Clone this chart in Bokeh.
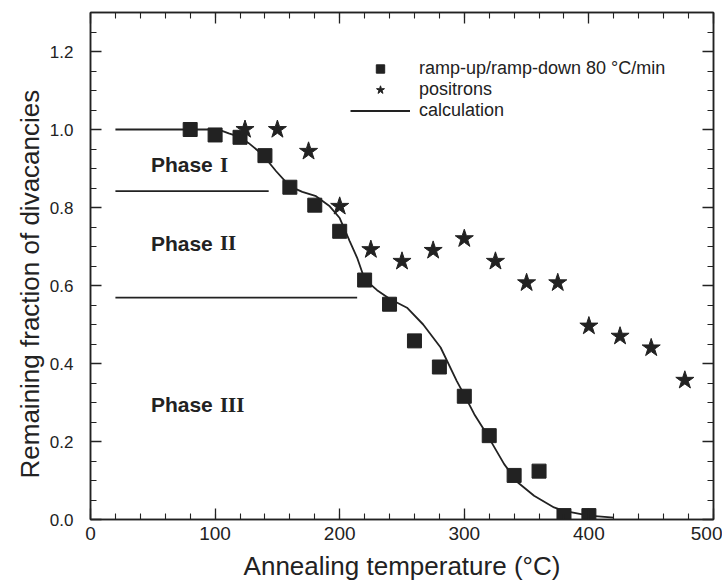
from bokeh.plotting import figure
from bokeh.models import (Range1d, FixedTicker, LinearAxis, Legend, LegendItem,
                          ColumnDataSource, PrintfTickFormatter, Title)
from bokeh.core.properties import value
from bokeh.embed import file_html
from bokeh.resources import INLINE

# ---------------- data ----------------
ramp_T = [80, 100, 120, 140, 160, 180, 200, 220, 240, 260, 280, 300, 320, 340, 360, 380, 400]
ramp_f = [1.0, 0.986, 0.98, 0.933, 0.852, 0.806, 0.739, 0.614, 0.552, 0.458, 0.391, 0.316,
          0.215, 0.113, 0.124, 0.01, 0.01]

pos_T = [124, 150, 175, 200, 225, 250, 275, 300, 325, 350, 375, 400, 425, 450, 477]
pos_f = [1.0, 1.0, 0.944, 0.803, 0.692, 0.662, 0.69, 0.72, 0.662, 0.607, 0.607, 0.496,
         0.47, 0.44, 0.357]

calc_T = [20, 60, 95, 105, 111, 119, 127, 138, 149, 160, 170, 181, 192, 200, 208, 214,
          220, 230, 240, 254, 267, 281, 294, 301, 308, 318, 332, 343, 356, 372, 380, 400, 420]
calc_f = [1.0, 1.0, 1.0, 0.997, 0.99, 0.982, 0.965, 0.936, 0.893, 0.854, 0.84, 0.829, 0.803,
          0.773, 0.714, 0.671, 0.616, 0.588, 0.566, 0.543, 0.50, 0.441, 0.355, 0.313, 0.27,
          0.219, 0.142, 0.095, 0.061, 0.031, 0.022, 0.01, 0.005]

# phase boundaries (horizontal lines)
bound_x0 = [20, 20]
bound_x1 = [143, 214]
bound_y = [0.842, 0.569]

phase_word = ["Phase", "Phase", "Phase"]
phase_num = ["I", "II", "III"]
phase_x = [48.5, 48.5, 48.5]
phase_y = [0.91, 0.708, 0.294]

x_ticks = [0, 100, 200, 300, 400, 500]
x_minor = list(range(0, 501, 20))
y_ticks = [0.0, 0.2, 0.4, 0.6, 0.8, 1.0, 1.2]
y_minor = [round(i * 0.05, 2) for i in range(0, 27)]

INK = "#222222"
FONT = "Liberation Sans"

p = figure(width=722, height=586, output_backend="svg", toolbar_location=None,
           x_range=Range1d(0, 500), y_range=Range1d(0, 1.3),
           x_axis_label="Annealing temperature (°C)",
           min_border_left=90, min_border_right=9, min_border_top=12, min_border_bottom=67)
p.grid.visible = False
p.outline_line_color = INK
p.outline_line_width = 1.5
p.background_fill_color = "white"
p.border_fill_color = "white"

def style_axis(ax, ticks, minor, show_labels):
    ax.ticker = FixedTicker(ticks=ticks, minor_ticks=minor)
    ax.major_tick_in = 11
    ax.major_tick_out = 0
    ax.minor_tick_in = 6
    ax.minor_tick_out = 0
    ax.axis_line_color = INK
    ax.axis_line_width = 1.5
    ax.major_tick_line_color = INK
    ax.minor_tick_line_color = INK
    ax.major_tick_line_width = 1.3
    ax.minor_tick_line_width = 1.1
    if show_labels:
        ax.major_label_text_font = FONT
        ax.major_label_text_color = INK
    else:
        ax.major_label_overrides = {t: "" for t in ticks}
        ax.major_label_standoff = 0

xa = p.xaxis[0]
ya = p.yaxis[0]
style_axis(xa, x_ticks, x_minor, True)
style_axis(ya, y_ticks, y_minor, True)
xa.major_label_text_font_size = "19px"
ya.major_label_text_font_size = "17px"
ya.formatter = PrintfTickFormatter(format="%.1f")
xa.major_label_standoff = 7
ya.major_label_standoff = 17
xa.axis_label_text_font = FONT
xa.axis_label_text_font_style = "normal"
xa.axis_label_text_font_size = "26px"
xa.axis_label_text_color = INK
xa.axis_label_standoff = 8

# y-axis title placed as a side title so it can sit where the original has it
ytitle = Title(text="Remaining fraction of divacancies", align="left", offset=41,
               text_font=FONT, text_font_style="normal", text_font_size="26px",
               text_color=INK, standoff=4)
p.add_layout(ytitle, "left")

top = LinearAxis()
right = LinearAxis()
style_axis(top, x_ticks, x_minor, False)
style_axis(right, y_ticks, y_minor, False)
p.add_layout(top, "above")
p.add_layout(right, "right")

# boundaries
p.segment(x0=bound_x0, x1=bound_x1, y0=bound_y, y1=bound_y, line_color=INK, line_width=1.6)

# calculation curve
calc_r = p.line(calc_T, calc_f, line_color=INK, line_width=1.8)

# data
sq_r = p.scatter(ramp_T, ramp_f, marker="square", size=14, fill_color=INK, line_color=INK)
st_r = p.scatter(pos_T, pos_f, marker="star", size=19, fill_color=INK, line_color=INK)

# phase labels
src = ColumnDataSource(dict(x=phase_x, y=phase_y, w=phase_word, n=phase_num))
p.text(x="x", y="y", text="w", source=src, text_font=value(FONT), text_font_style="bold",
       text_font_size="21px", text_color=INK, text_baseline="alphabetic", text_align="left")
p.text(x="x", y="y", text="n", source=src, text_font=value("Liberation Serif"),
       text_font_style="bold", text_font_size="21px", text_color=INK,
       text_baseline="alphabetic", text_align="left", x_offset=69)

legend = Legend(items=[
    LegendItem(label="ramp-up/ramp-down 80 °C/min", renderers=[sq_r]),
    LegendItem(label="positrons", renderers=[st_r]),
    LegendItem(label="calculation", renderers=[calc_r]),
], location=(260, 398))
legend.glyph_width = 60
legend.glyph_height = 21
legend.label_height = 21
legend.spacing = 0
legend.padding = 0
legend.margin = 0
legend.label_standoff = 9
legend.border_line_alpha = 0
legend.background_fill_alpha = 0
legend.label_text_font = FONT
legend.label_text_font_size = "18px"
legend.label_text_color = INK
p.add_layout(legend, "center")

open("out.html", "w").write(file_html(p, INLINE))
